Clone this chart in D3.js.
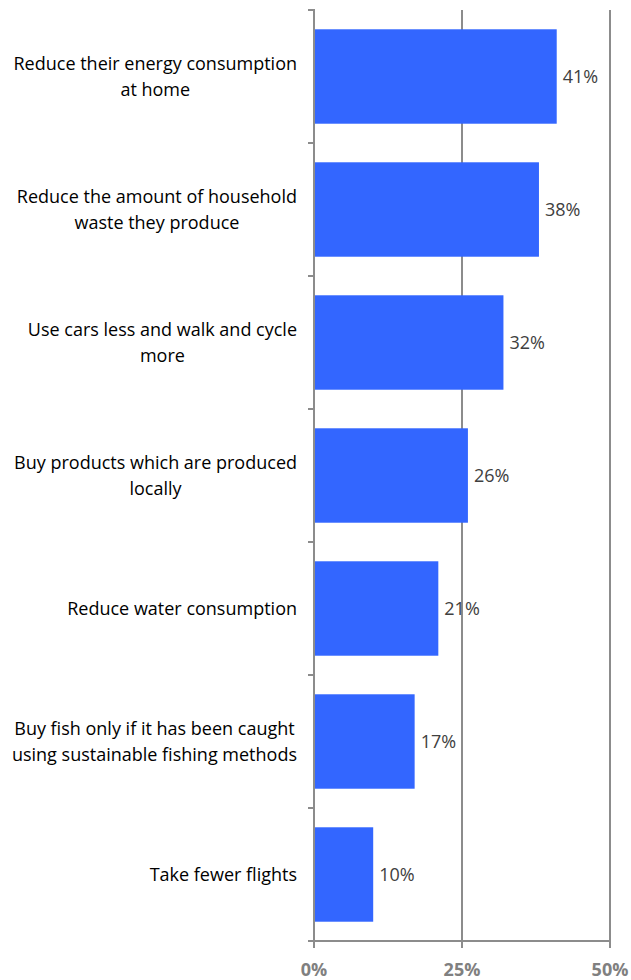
<!DOCTYPE html>
<html>
<head>
<meta charset="utf-8">
<script src="https://cdn.jsdelivr.net/npm/d3@7"></script>
<style>
  html, body { margin: 0; padding: 0; background: #fff; }
  svg { display: block; }
</style>
</head>
<body>
<svg id="chart" width="631" height="980"></svg>
<script>
// Share of respondents by action (percent)
const categories = [
  ["Reduce their energy consumption", "at home"],
  ["Reduce the amount of household", "waste they produce"],
  ["Use cars less and walk and cycle", "more"],
  ["Buy products which are produced", "locally"],
  ["Reduce water consumption"],
  ["Buy fish only if it has been caught", "using sustainable fishing methods"],
  ["Take fewer flights"]
];
const values = [41, 38, 32, 26, 21, 17, 10];
const tickValues = [0, 25, 50];
const tickLabels = ["0%", "25%", "50%"];

const svg = d3.select("#chart");
const font = "'Open Sans', Lato, sans-serif";
const gridColor = "#8c8c8c";

const x = d3.scaleLinear().domain([0, 50]).range([314, 610]);
const y = d3.scaleBand().domain(d3.range(categories.length)).range([10, 941]).paddingInner(0.29).paddingOuter(0.145);

// vertical gridlines
svg.selectAll("line.grid").data(tickValues).join("line")
  .attr("x1", d => x(d)).attr("x2", d => x(d))
  .attr("y1", 10).attr("y2", 948)
  .attr("stroke", gridColor).attr("stroke-width", 2);

// bars
svg.selectAll("rect.bar").data(values).join("rect")
  .attr("x", x(0) + 1)
  .attr("y", (d, i) => y(i))
  .attr("width", d => x(d) - x(0) - 1)
  .attr("height", y.bandwidth())
  .attr("fill", "#3366FF");

// category axis line and band-boundary ticks
svg.append("line").attr("x1", x(0)).attr("x2", x(0)).attr("y1", 9).attr("y2", 941)
  .attr("stroke", gridColor).attr("stroke-width", 2);
const bounds = d3.range(categories.length + 1).map(i => 10 + i * (931 / categories.length));
svg.selectAll("line.ytick").data(bounds).join("line")
  .attr("x1", x(0) - 6).attr("x2", x(0))
  .attr("y1", d => d).attr("y2", d => d)
  .attr("stroke", gridColor).attr("stroke-width", 2);

// value axis line
svg.append("line").attr("x1", x(0) - 6).attr("x2", x(50)).attr("y1", 941).attr("y2", 941)
  .attr("stroke", gridColor).attr("stroke-width", 2);

svg.selectAll("text.xlab").data(tickValues).join("text")
  .attr("x", d => x(d)).attr("y", 976)
  .attr("text-anchor", "middle")
  .attr("font-family", font).attr("font-weight", "bold").attr("font-size", 18)
  .attr("fill", "#808080")
  .text((d, i) => tickLabels[i]);

// category labels: lines centred on each other, block right-aligned
const labelRight = 297;
const lineH = 26;
categories.forEach((lines, i) => {
  const cy = y(i) + y.bandwidth() / 2;
  const g = svg.append("g");
  const texts = lines.map((t, k) => g.append("text")
    .attr("y", cy + (k - (lines.length - 1) / 2) * lineH + 6)
    .attr("font-family", font).attr("font-size", 18).attr("fill", "#000")
    .attr("text-anchor", "middle")
    .text(t));
  const maxW = d3.max(texts, t => t.node().getComputedTextLength());
  texts.forEach(t => t.attr("x", labelRight - maxW / 2));
});

// value labels
svg.selectAll("text.val").data(values).join("text")
  .attr("x", d => x(d) + 6)
  .attr("y", (d, i) => y(i) + y.bandwidth() / 2 + 6)
  .attr("font-family", font).attr("font-size", 18).attr("fill", "#404040")
  .text(d => d + "%");
</script>
</body>
</html>
